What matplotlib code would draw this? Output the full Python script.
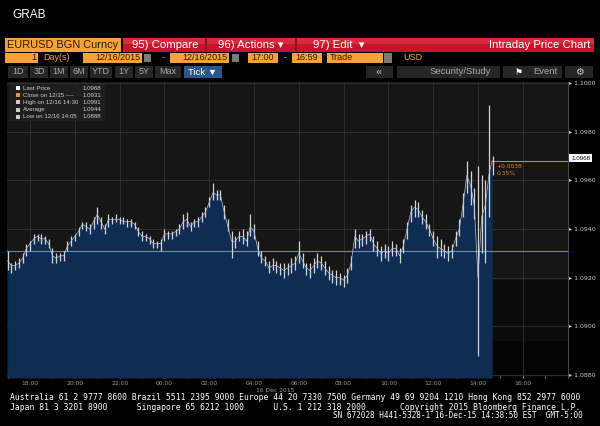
import matplotlib.pyplot as plt
from matplotlib.patches import Rectangle
import numpy as np

# EURUSD intraday, 10 minute bars from 17:00 (12/15) to 14:38 (12/16)
bar_close = [1.0927, 1.0925, 1.0925, 1.0926, 1.0928, 1.0932, 1.0934, 1.0936, 1.0937, 1.0936,
             1.0936, 1.0934, 1.0929, 1.0928, 1.0929, 1.0929, 1.0933, 1.0935, 1.0937, 1.0939,
             1.0942, 1.0941, 1.0940, 1.0943, 1.0946, 1.0943, 1.0940, 1.0944, 1.0944, 1.0944,
             1.0944, 1.0943, 1.0943, 1.0943, 1.0942, 1.0939, 1.0937, 1.0937, 1.0936, 1.0934,
             1.0934, 1.0934, 1.0938, 1.0938, 1.0938, 1.0939, 1.0940, 1.0943, 1.0944, 1.0941,
             1.0943, 1.0943, 1.0945, 1.0947, 1.0951, 1.0955, 1.0954, 1.0954, 1.0947, 1.0941,
             1.0935, 1.0935, 1.0937, 1.0937, 1.0935, 1.0941, 1.0939, 1.0932, 1.0928, 1.0927,
             1.0924, 1.0925, 1.0925, 1.0924, 1.0923, 1.0924, 1.0925, 1.0926, 1.0930, 1.0927,
             1.0924, 1.0923, 1.0925, 1.0927, 1.0926, 1.0924, 1.0922, 1.0921, 1.0920, 1.0920,
             1.0919, 1.0921, 1.0926, 1.0937, 1.0935, 1.0936, 1.0937, 1.0938, 1.0934, 1.0932,
             1.0930, 1.0931, 1.0930, 1.0932, 1.0932, 1.0929, 1.0933, 1.0940, 1.0947, 1.0949,
             1.0948, 1.0945, 1.0943, 1.0940, 1.0936, 1.0933, 1.0932, 1.0931, 1.0930, 1.0931,
             1.0936, 1.0940, 1.0950, 1.0962, 1.0958, 1.0950, 1.0920, 1.0945, 1.0950, 1.0963,
             1.0968]
bar_high = [1.0931, 1.0926, 1.0927, 1.0928, 1.0930, 1.0934, 1.0935, 1.0938, 1.0938, 1.0938,
            1.0937, 1.0936, 1.0932, 1.0930, 1.0930, 1.0931, 1.0935, 1.0937, 1.0938, 1.0941,
            1.0943, 1.0943, 1.0942, 1.0945, 1.0949, 1.0945, 1.0942, 1.0946, 1.0945, 1.0946,
            1.0945, 1.0945, 1.0944, 1.0944, 1.0943, 1.0941, 1.0939, 1.0938, 1.0937, 1.0936,
            1.0935, 1.0936, 1.0940, 1.0939, 1.0939, 1.0940, 1.0942, 1.0946, 1.0947, 1.0943,
            1.0944, 1.0945, 1.0947, 1.0949, 1.0953, 1.0959, 1.0956, 1.0956, 1.0950, 1.0944,
            1.0939, 1.0937, 1.0939, 1.0940, 1.0939, 1.0946, 1.0942, 1.0935, 1.0931, 1.0929,
            1.0927, 1.0928, 1.0927, 1.0926, 1.0926, 1.0926, 1.0928, 1.0929, 1.0935, 1.0930,
            1.0926, 1.0926, 1.0928, 1.0930, 1.0929, 1.0927, 1.0925, 1.0923, 1.0923, 1.0922,
            1.0921, 1.0924, 1.0929, 1.0940, 1.0938, 1.0938, 1.0939, 1.0940, 1.0937, 1.0935,
            1.0933, 1.0934, 1.0933, 1.0935, 1.0934, 1.0932, 1.0936, 1.0943, 1.0950, 1.0952,
            1.0951, 1.0948, 1.0946, 1.0942, 1.0939, 1.0937, 1.0936, 1.0934, 1.0933, 1.0934,
            1.0939, 1.0944, 1.0955, 1.0968, 1.0964, 1.0957, 1.0966, 1.0962, 1.0960, 1.0991,
            1.0970]
bar_low = [1.0923, 1.0922, 1.0923, 1.0924, 1.0926, 1.0929, 1.0931, 1.0934, 1.0935, 1.0934,
           1.0934, 1.0932, 1.0926, 1.0926, 1.0927, 1.0927, 1.0931, 1.0933, 1.0935, 1.0937,
           1.0940, 1.0939, 1.0938, 1.0940, 1.0942, 1.0940, 1.0938, 1.0941, 1.0942, 1.0943,
           1.0942, 1.0942, 1.0941, 1.0941, 1.0940, 1.0937, 1.0935, 1.0935, 1.0934, 1.0932,
           1.0932, 1.0931, 1.0935, 1.0936, 1.0936, 1.0937, 1.0938, 1.0940, 1.0941, 1.0939,
           1.0941, 1.0941, 1.0943, 1.0945, 1.0949, 1.0952, 1.0952, 1.0952, 1.0944, 1.0939,
           1.0928, 1.0932, 1.0935, 1.0934, 1.0933, 1.0937, 1.0936, 1.0929, 1.0926, 1.0925,
           1.0922, 1.0923, 1.0922, 1.0921, 1.0920, 1.0921, 1.0922, 1.0923, 1.0926, 1.0924,
           1.0921, 1.0920, 1.0922, 1.0924, 1.0923, 1.0921, 1.0919, 1.0918, 1.0917, 1.0917,
           1.0916, 1.0918, 1.0923, 1.0932, 1.0932, 1.0933, 1.0934, 1.0935, 1.0931, 1.0929,
           1.0927, 1.0928, 1.0927, 1.0929, 1.0929, 1.0926, 1.0930, 1.0936, 1.0943, 1.0945,
           1.0945, 1.0942, 1.0940, 1.0937, 1.0933, 1.0928, 1.0929, 1.0928, 1.0927, 1.0928,
           1.0933, 1.0937, 1.0945, 1.0955, 1.0950, 1.0944, 1.0888, 1.0930, 1.0926, 1.0945,
           1.0962]
bar_step_min = 10

prev_close = 1.0931
last_price = 1.0968
y_ticks = [1.0880, 1.0900, 1.0920, 1.0940, 1.0960, 1.0980, 1.1000]
x_tick_hours = [1, 3, 5, 7, 9, 11, 13, 15, 17, 19, 21, 23]   # hours after 17:00
x_tick_labels = ['18:00', '20:00', '22:00', '00:00', '02:00', '04:00',
                 '06:00', '08:00', '10:00', '12:00', '14:00', '16:00']

legend_rows = [('Last Price', '1.0968'), ('Close on 12/15 ----', '1.0931'),
               ('High on 12/16 14:30', '1.0991'), ('Average', '1.0944'),
               ('Low on 12/16 14:05', '1.0888')]

W, H = 600, 426
fig = plt.figure(figsize=(6, 4.26), dpi=100, facecolor='black')
FONT = ['Liberation Sans', 'DejaVu Sans']


def fx(x):
    return x / W


def fy(y):
    return 1 - y / H


def box(x0, y0, x1, y1, color, **kw):
    fig.patches.append(Rectangle((fx(x0), fy(y1)), (x1 - x0) / W, (y1 - y0) / H,
                                 transform=fig.transFigure, facecolor=color,
                                 edgecolor='none', **kw))


def txt(x, y, s, color='white', size=7, ha='left', family=FONT, **kw):
    fig.text(fx(x), fy(y), s, color=color, fontsize=size, ha=ha, va='center',
             family=family, **kw)


# header
txt(12, 15, 'GRAB', size=8.5)

orange = '#f7a23a'
box(5, 38, 121, 52, orange)
txt(7, 45.5, 'EURUSD BGN Curncy', color='#2a1a05', size=7.9)
box(123, 38, 594, 52, '#c8142b')
box(123, 38, 594, 44, '#d82c3c')
box(205, 38, 207, 52, '#8e0e1d')
box(295, 38, 297, 52, '#8e0e1d')
txt(132, 45.5, '95) Compare', size=8.2)
txt(218, 45.5, '96) Actions \u25be', size=8.2)
txt(313, 45.5, '97) Edit  \u25be', size=8.2)
txt(590, 45.5, 'Intraday Price Chart', size=8.2, ha='right')

# second row
box(5, 53, 38, 63, orange)
txt(36, 58, '1', color='#2a1a05', size=6.5, ha='right')
txt(43, 58, 'Day(s)', color='#f7a23a', size=6.5)
box(83, 53, 142, 63, orange)
txt(140, 58, '12/16/2015', color='#2a1a05', size=6.5, ha='right')
box(144, 54, 151, 62, '#7a7a7a')
txt(162, 58, '-', color='#bbbbbb', size=6.5)
box(170, 53, 229, 63, orange)
txt(227, 58, '12/16/2015', color='#2a1a05', size=6.5, ha='right')
box(232, 54, 239, 62, '#7a7a7a')
box(248, 53, 278, 63, orange)
txt(251, 58, '17:00', color='#2a1a05', size=6.5)
txt(284, 58, '-', color='#bbbbbb', size=6.5)
box(292, 53, 322, 63, orange)
txt(295, 58, '16:59', color='#2a1a05', size=6.5)
box(327, 53, 383, 63, orange)
txt(330, 58, 'Trade', color='#2a1a05', size=6.5)
box(384, 53, 392, 63, '#7a7a7a')
txt(403, 58, 'USD', color='#f7a23a', size=6.5)

# third row
buttons = [(8, 28, '1D'), (30, 48, '3D'), (50, 68, '1M'), (70, 88, '6M'),
           (90, 112, 'YTD'), (115, 133, '1Y'), (135, 153, '5Y'), (155, 181, 'Max')]
for x0, x1, lab in buttons:
    box(x0, 66, x1, 78, '#262626')
    txt((x0 + x1) / 2, 72, lab, color='#a8a8a8', size=6.5, ha='center')
box(184, 66, 222, 78, '#2a5688')
txt(203, 72, 'Tick \u25bc', size=6.8, ha='center')
box(366, 66, 393, 78, '#262626')
txt(379, 72, '\u00ab', color='#bbbbbb', size=8, ha='center')
box(397, 66, 500, 78, '#262626')
txt(430, 72, 'Security/Study', color='#a8a8a8', size=6.8)
box(503, 66, 562, 78, '#262626')
txt(515, 72, '\u2691', color='white', size=6.5, family='DejaVu Sans')
txt(533, 72, 'Event', color='#a8a8a8', size=6.8)
box(565, 66, 593, 78, '#262626')
txt(579, 72, '\u2699', color='#cccccc', size=7, ha='center', family='DejaVu Sans')

# main chart, x in hours after 17:00
ax = fig.add_axes([fx(7), fy(378), (568 - 7) / W, (378 - 82) / H])
ax.set_facecolor('#161616')
t = np.arange(len(bar_close)) * bar_step_min / 60
x_end = t[-1] - 2 / 60
ax.set_xlim(-0.03, 25.02)
ax.set_ylim(1.08788, 1.10004)

ax.add_patch(Rectangle((x_end, 1.08788), 25.02 - x_end, 1.0919 - 1.08788,
                       facecolor='#0b0b0b', edgecolor='none', zorder=0))
ax.add_patch(Rectangle((x_end, 1.08788), 25.02 - x_end, 1.0894 - 1.08788,
                       facecolor='#040404', edgecolor='none', zorder=0))

for h in x_tick_hours:
    ax.axvline(h, color='#333333', lw=0.6, zorder=1)
for v in y_ticks:
    ax.axhline(v, color='#333333', lw=0.6, zorder=1)

t_fill = np.append(t[:-1], x_end)
ax.fill_between(t_fill, bar_close, 1.08788, color='#0f2c54', lw=0, zorder=2)
ax.axhline(prev_close, color='#b8783a', lw=0.8, zorder=3)
ax.vlines(t, bar_low, bar_high, color='#d4d4d4', lw=0.9, zorder=4)
ax.plot(t_fill, bar_close, color='#b8c4d8', lw=0.5, zorder=4)
ax.plot([x_end, 25.02], [last_price, last_price], color='#c88a4a', lw=0.8, zorder=3)
ax.text(x_end + 0.18, last_price - 0.00012, '+0.0038', color='#d08a3a', fontsize=4.3, va='top')
ax.text(x_end + 0.18, last_price - 0.00043, '0.35%', color='#d08a3a', fontsize=4.3, va='top')

ax.yaxis.tick_right()
ax.set_yticks(y_ticks)
ax.set_yticklabels(['\u25b8 %.4f' % v for v in y_ticks])
ax.set_xticks(x_tick_hours)
ax.set_xticklabels(x_tick_labels)
ax.set_xticks(np.arange(0, 25, 1), minor=True)
ax.tick_params(axis='y', colors='#cccccc', labelsize=4.5, length=0, pad=1)
ax.tick_params(axis='x', which='both', colors='#999999', labelsize=4.3, length=1.5,
               direction='in', pad=2)
for s in ['top', 'left', 'bottom']:
    ax.spines[s].set_visible(False)
ax.spines['right'].set_color('#555555')
ax.spines['right'].set_linewidth(0.6)

# last price tag on the axis
txt(571, 158, '1.0968', color='black', size=4.5,
    bbox=dict(boxstyle='square,pad=0.25', fc='white', ec='none'))

fig.text(fx(275), fy(390), '16 Dec 2015', color='#999999', fontsize=4.3, ha='center', va='center')

# legend box
box(9, 84, 105, 121, '#1e1e1e')
icon_colors = ['white', '#e8962e', '#cccccc', '#cccccc', '#cccccc']
for k, (lab, val) in enumerate(legend_rows):
    yy = 88 + k * 7.2
    box(16, yy - 2, 20, yy + 2, icon_colors[k])
    txt(23, yy, lab, color='#cfcfcf', size=4.4)
    txt(101, yy, val, color='#cfcfcf', size=4.4, ha='right')

# footer
mono = 'DejaVu Sans Mono'
txt(10, 398, 'Australia 61 2 9777 8600 Brazil 5511 2395 9000 Europe 44 20 7330 7500 '
    'Germany 49 69 9204 1210 Hong Kong 852 2977 6000', size=5.8, family=mono)
txt(10, 407, 'Japan 81 3 3201 8900      Singapore 65 6212 1000      U.S. 1 212 318 2000'
    '       Copyright 2015 Bloomberg Finance L.P.', size=5.8, family=mono)
txt(583, 416, 'SN 672028 H441-5328-1 16-Dec-15 14:38:50 EST  GMT-5:00', size=5.6,
    family=mono, ha='right')

fig.savefig('out.png', dpi=100, facecolor='black')
